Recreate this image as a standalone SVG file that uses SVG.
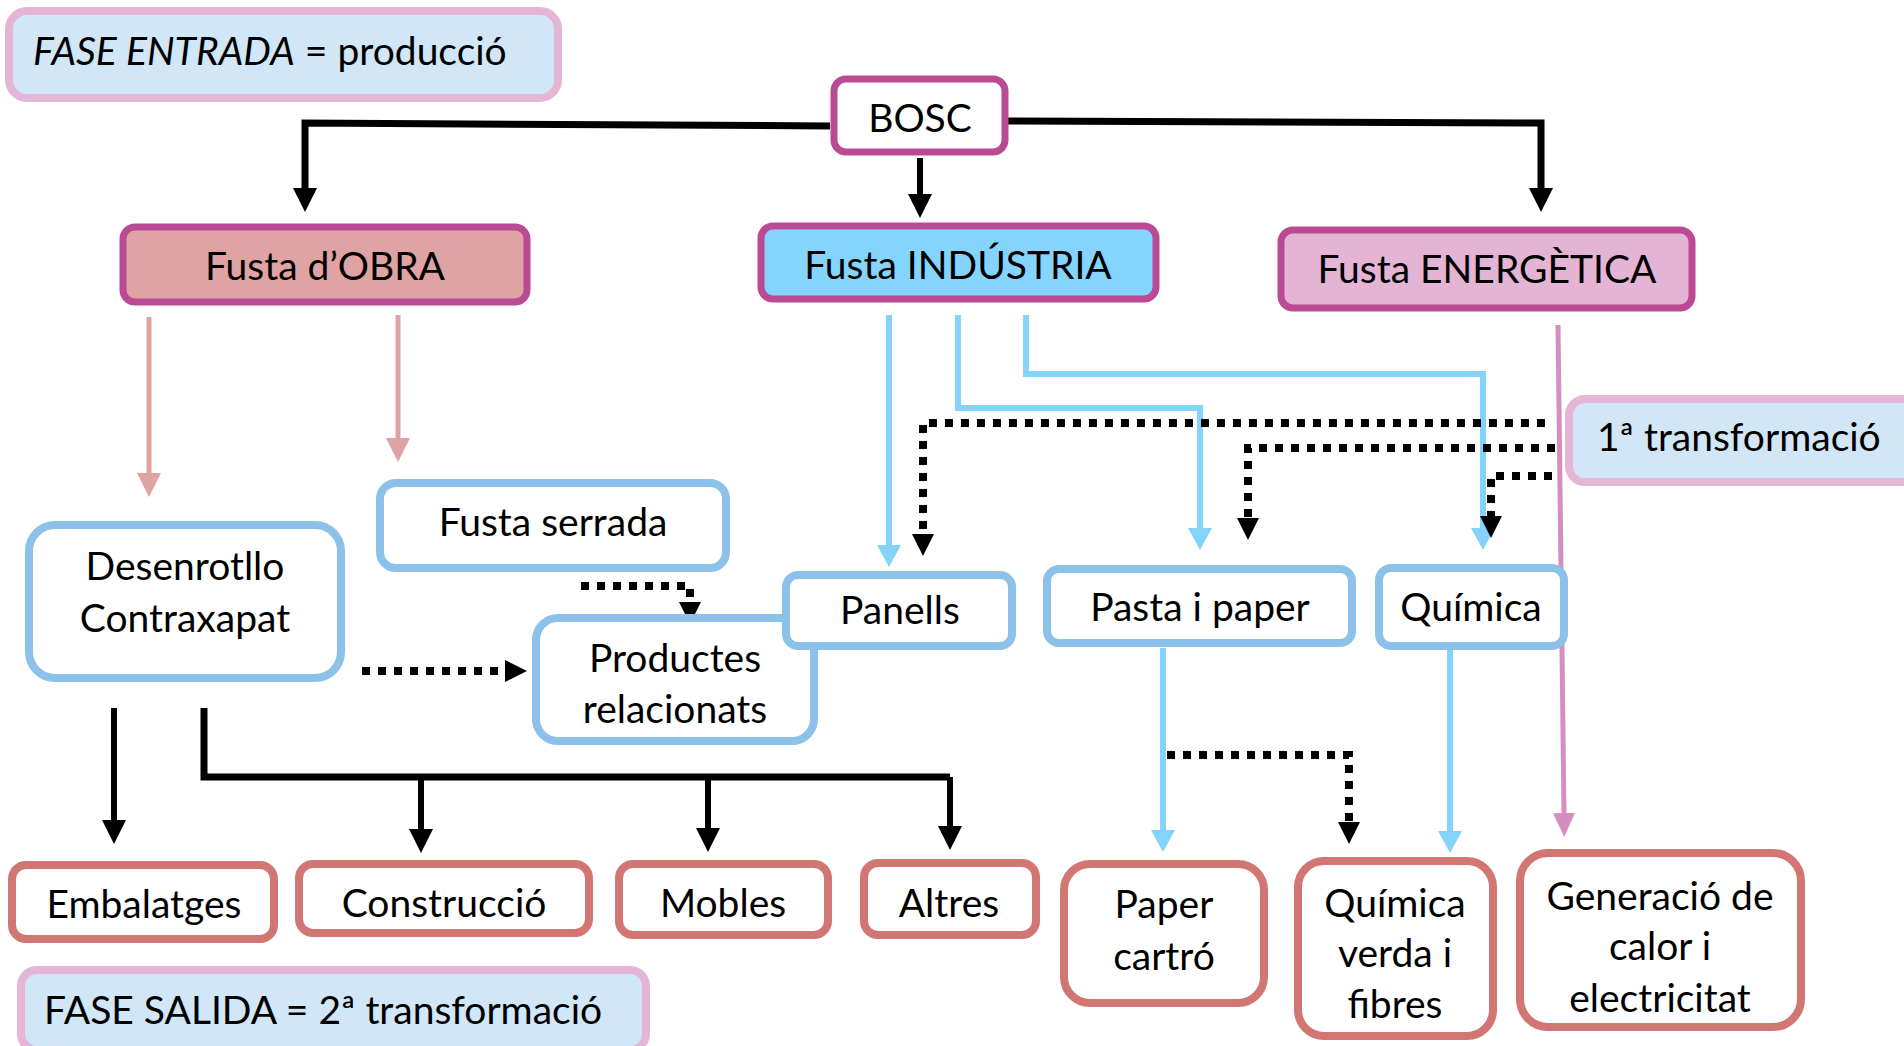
<svg xmlns="http://www.w3.org/2000/svg" width="1904" height="1046" viewBox="0 0 1904 1046">
<defs>
<style>
text{font-family:Lato,"Open Sans","DejaVu Sans",sans-serif;font-size:39px;fill:#000}
.c{text-anchor:middle}
.mag{stroke:#b94a93;stroke-width:7}
.bl{fill:#fff;stroke:#8cc1ea;stroke-width:8}
.rd{fill:#fff;stroke:#d27673;stroke-width:8}
.lab{fill:#d1e6f6;stroke:#e5b5d5;stroke-width:8}
.k{fill:none;stroke:#000;stroke-width:6}
.kd{fill:none;stroke:#000;stroke-width:8;stroke-dasharray:8 8}
.bu{fill:none;stroke:#84d3fb;stroke-width:6}
.pk{fill:none;stroke:#e0a3a3;stroke-width:5}
.pp{fill:none;stroke:#d48fc0;stroke-width:5}
</style>
<marker id="ak" markerUnits="userSpaceOnUse" viewBox="0 0 24 24" refX="0" refY="12" markerWidth="24" markerHeight="24" orient="auto"><path d="M0,0 L24,12 L0,24 z" fill="#000"/></marker>
<marker id="akd" markerUnits="userSpaceOnUse" viewBox="0 0 22 22" refX="0" refY="11" markerWidth="22" markerHeight="22" orient="auto"><path d="M0,0 L22,11 L0,22 z" fill="#000"/></marker>
<marker id="abu" markerUnits="userSpaceOnUse" viewBox="0 0 22 24" refX="0" refY="12" markerWidth="22" markerHeight="24" orient="auto"><path d="M0,0 L22,12 L0,24 z" fill="#84d3fb"/></marker>
<marker id="apk" markerUnits="userSpaceOnUse" viewBox="0 0 24 24" refX="0" refY="12" markerWidth="24" markerHeight="24" orient="auto"><path d="M0,0 L24,12 L0,24 z" fill="#e0a3a3"/></marker>
<marker id="app" markerUnits="userSpaceOnUse" viewBox="0 0 24 22" refX="0" refY="11" markerWidth="24" markerHeight="22" orient="auto"><path d="M0,0 L24,11 L0,22 z" fill="#d48fc0"/></marker>
</defs>
<rect width="1904" height="1046" fill="#fff"/>

<g id="connectors">
<path class="k" style="stroke-width:7" d="M830,126 L305,123 V188" marker-end="url(#ak)"/>
<path class="k" d="M920,158 V194" marker-end="url(#ak)"/>
<path class="k" style="stroke-width:7" d="M1008,121 L1541,123 V188" marker-end="url(#ak)"/>
<path class="pk" d="M149,317 V473" marker-end="url(#apk)"/>
<path class="pk" d="M398,315 V438" marker-end="url(#apk)"/>
<path class="bu" d="M889,315 V545" marker-end="url(#abu)"/>
<path class="bu" d="M958,315 V408 H1200 V528" marker-end="url(#abu)"/>
<path class="bu" d="M1026,315 V374 H1483 V528" marker-end="url(#abu)"/>
<path class="kd" d="M1545,423 H923 V534" marker-end="url(#akd)"/>
<path class="kd" d="M1555,448 H1248 V518" marker-end="url(#akd)"/>
<path class="kd" d="M1552,476 H1491 V516" marker-end="url(#akd)"/>
<path class="kd" d="M581,586 H690 V602" marker-end="url(#akd)"/>
<path class="kd" d="M362,671 H505" marker-end="url(#akd)"/>
<path class="pp" d="M1558,325 L1564,813" marker-end="url(#app)"/>
<path class="bu" d="M1163,648 V830" marker-end="url(#abu)"/>
<path class="kd" d="M1167,755 H1349 V822" marker-end="url(#akd)"/>
<path class="bu" d="M1450,650 V831" marker-end="url(#abu)"/>
<path class="k" d="M114,708 V820" marker-end="url(#ak)"/>
<path class="k" style="stroke-width:7" d="M204,708 V777 H950"/>
<path class="k" d="M950,777 V826" marker-end="url(#ak)"/>
<path class="k" d="M421,777 V829" marker-end="url(#ak)"/>
<path class="k" d="M708,777 V828" marker-end="url(#ak)"/>
</g>

<g id="fase-entrada">
<rect class="lab" x="9" y="11" width="549" height="87" rx="18"/>
<text x="33" y="65"><tspan font-style="italic">FASE ENTRADA</tspan> = producció</text>
</g>
<g id="bosc">
<rect class="mag" fill="#fff" x="834" y="79" width="171" height="73" rx="12"/>
<text class="c" x="920" y="132">BOSC</text>
</g>
<g id="fusta-obra">
<rect class="mag" fill="#e0a3a3" x="123" y="227" width="404" height="75" rx="12"/>
<text class="c" x="325" y="280">Fusta d’OBRA</text>
</g>
<g id="fusta-industria">
<rect class="mag" fill="#85d4fd" x="761" y="226" width="395" height="73" rx="12"/>
<text class="c" x="958" y="279">Fusta INDÚSTRIA</text>
</g>
<g id="fusta-energetica">
<rect class="mag" fill="#e3b4d4" x="1281" y="230" width="411" height="78" rx="12"/>
<text class="c" x="1487" y="283">Fusta ENERGÈTICA</text>
</g>
<g id="primera-transformacio">
<rect class="lab" x="1569" y="399" width="360" height="83" rx="16"/>
<text x="1597" y="451">1ª transformació</text>
</g>
<g id="desenrotllo">
<rect class="bl" x="29" y="525" width="312" height="153" rx="26"/>
<text class="c" x="185" y="580">Desenrotllo</text>
<text class="c" x="185" y="632">Contraxapat</text>
</g>
<g id="fusta-serrada">
<rect class="bl" x="380" y="483" width="346" height="85" rx="16"/>
<text class="c" x="553" y="536">Fusta serrada</text>
</g>
<g id="productes">
<rect class="bl" x="536" y="618" width="278" height="123" rx="22"/>
<text class="c" x="675" y="672">Productes</text>
<text class="c" x="675" y="723">relacionats</text>
</g>
<g id="panells">
<rect class="bl" x="786" y="575" width="226" height="71" rx="12"/>
<text class="c" x="900" y="624">Panells</text>
</g>
<g id="pasta-paper">
<rect class="bl" x="1047" y="569" width="305" height="74" rx="12"/>
<text class="c" x="1200" y="621">Pasta i paper</text>
</g>
<g id="quimica">
<rect class="bl" x="1379" y="568" width="185" height="78" rx="12"/>
<text class="c" x="1471" y="621">Química</text>
</g>
<g id="embalatges">
<rect class="rd" x="12" y="865" width="262" height="74" rx="14"/>
<text class="c" x="144" y="918">Embalatges</text>
</g>
<g id="construccio">
<rect class="rd" x="299" y="864" width="290" height="69" rx="14"/>
<text class="c" x="444" y="917">Construcció</text>
</g>
<g id="mobles">
<rect class="rd" x="619" y="864" width="209" height="71" rx="14"/>
<text class="c" x="723" y="917">Mobles</text>
</g>
<g id="altres">
<rect class="rd" x="864" y="863" width="172" height="72" rx="14"/>
<text class="c" x="949" y="917">Altres</text>
</g>
<g id="fase-salida">
<rect class="lab" x="21" y="970" width="625" height="80" rx="16"/>
<text x="44" y="1024">FASE SALIDA = 2ª transformació</text>
</g>
<g id="paper-cartro">
<rect class="rd" x="1064" y="864" width="200" height="139" rx="26"/>
<text class="c" x="1164" y="918">Paper</text>
<text class="c" x="1164" y="970">cartró</text>
</g>
<g id="quimica-verda">
<rect class="rd" x="1298" y="861" width="195" height="175" rx="26"/>
<text class="c" x="1395" y="917">Química</text>
<text class="c" x="1395" y="967">verda i</text>
<text class="c" x="1395" y="1018">fibres</text>
</g>
<g id="generacio">
<rect class="rd" x="1520" y="853" width="281" height="174" rx="28"/>
<text class="c" x="1660" y="910">Generació de</text>
<text class="c" x="1660" y="960">calor i</text>
<text class="c" x="1660" y="1012">electricitat</text>
</g>
</svg>
